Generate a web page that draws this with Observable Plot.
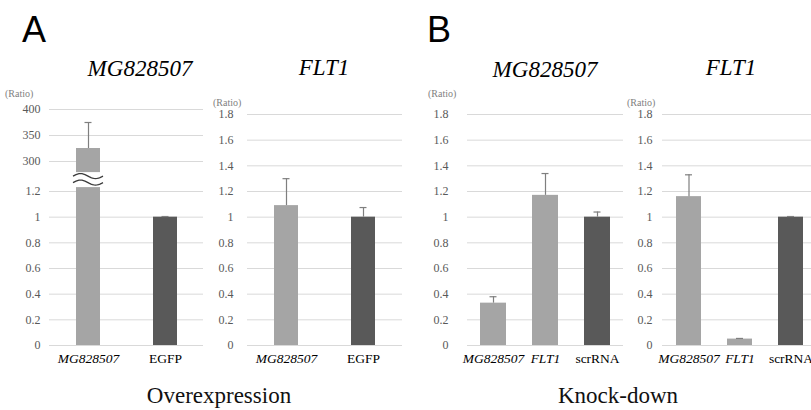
<!DOCTYPE html>
<html><head><meta charset="utf-8">
<script src="https://cdn.jsdelivr.net/npm/d3@7"></script>
<script src="https://cdn.jsdelivr.net/npm/@observablehq/plot@0.6"></script>
<style>
body{margin:0;background:#fff;overflow:hidden}
#chart{position:relative;width:811px;height:410px;overflow:hidden;background:#fff}
#chart svg{position:absolute}
#chart svg text{font-family:"Liberation Serif","Times New Roman",Tinos,"DejaVu Serif","Noto Serif",serif}
#chart svg text.sans{font-family:"Liberation Sans",Arial,Arimo,"DejaVu Sans",sans-serif}
</style></head><body><div id="chart"></div>
<script>
// ---- data ----
const overMgCats = ["MG828507", "EGFP"];
const overMgValues = [325, 1.0];
const overMgUpper = [375, 1.005];

const overFltCats = ["MG828507", "EGFP"];
const overFltValues = [1.09, 1.0];
const overFltUpper = [1.30, 1.075];

const kdMgCats = ["MG828507", "FLT1", "scrRNA"];
const kdMgValues = [0.33, 1.17, 1.0];
const kdMgUpper = [0.38, 1.34, 1.04];

const kdFltCats = ["MG828507", "FLT1", "scrRNA"];
const kdFltValues = [1.16, 0.05, 1.0];
const kdFltUpper = [1.33, 0.055, 1.005];

const brokenTicks = [0, 0.2, 0.4, 0.6, 0.8, 1, 1.2, 300, 350, 400];
const ratioTicks = [0, 0.2, 0.4, 0.6, 0.8, 1, 1.2, 1.4, 1.6, 1.8];
const italicCats = ["MG828507", "FLT1"];
const panelTitles = ["MG828507", "FLT1", "MG828507", "FLT1"];
const panelLetters = ["A", "B"];
const groupCaptions = ["Overexpression", "Knock-down"];
const axisUnit = "(Ratio)";

// ---- styles ----
const LIGHT = "#a5a5a5", DARK = "#595959", ERR = "#7f7f7f", GRID = "#d9d9d9";
const chart = document.getElementById("chart");

function rowsOf(cats, values, upper) {
  return cats.map((c, i) => ({cat: c, value: values[i], upper: upper[i], control: i === cats.length - 1}));
}

function breakMark(cat) {
  return (index, scales) => {
    const x = scales.x, y = scales.y;
    const xa = x(cat) - 3, w = x.bandwidth() + 6;
    const ym = y(1.2) + (y(300) - y(1.2)) * 0.38;
    const g = d3.create("svg:g");
    g.append("rect").attr("x", xa).attr("y", ym - 7.5).attr("width", w).attr("height", 15).attr("fill", "white");
    const t = d3.range(0, 1.0001, 0.05);
    for (const yc of [ym - 3.5, ym + 3]) {
      const line = d3.line()(t.map(s => [xa + s * w, yc - 2.5 * Math.sin(2 * Math.PI * s)]));
      g.append("path").attr("d", line).attr("fill", "none").attr("stroke", "#3a3a3a").attr("stroke-width", 1.3);
    }
    return g.node();
  };
}

function panel({rows, cats, left, gridWidth, tickPadding, barWidth, yOpts, ticks, extra = []}) {
  const ml = 50;
  const step = gridWidth / cats.length;
  const pi = 1 - barWidth / step;
  const capInset = (barWidth - 7) / 2;
  const svg = Plot.plot({
    width: ml + gridWidth, height: 290,
    marginLeft: ml, marginRight: 0, marginTop: 24, marginBottom: 35,
    style: {background: "transparent", overflow: "visible", fontSize: "12px", color: "#595959"},
    x: {type: "band", domain: cats, paddingInner: pi, paddingOuter: pi / 2, axis: null},
    y: {...yOpts, ticks, tickSize: 0, tickPadding, tickFormat: d => String(d), label: null},
    marks: [
      Plot.ruleY(ticks, {stroke: GRID, strokeWidth: 1}),
      Plot.barY(rows.filter(d => !d.control), {x: "cat", y: "value", fill: LIGHT}),
      Plot.barY(rows.filter(d => d.control), {x: "cat", y: "value", fill: DARK}),
      Plot.ruleX(rows, {x: "cat", y1: "value", y2: "upper", stroke: ERR, strokeWidth: 1.2}),
      Plot.tickY(rows, {x: "cat", y: "upper", stroke: ERR, strokeWidth: 1.2, insetLeft: capInset, insetRight: capInset}),
      ...extra,
      Plot.text(rows.filter(d => italicCats.includes(d.cat)), {x: "cat", text: "cat", frameAnchor: "bottom", dy: 17, fontStyle: "italic", fill: "black", fontSize: 13.5}),
      Plot.text(rows.filter(d => !italicCats.includes(d.cat)), {x: "cat", text: "cat", frameAnchor: "bottom", dy: 17, fill: "black", fontSize: 13.5})
    ]
  });
  svg.style.left = (left - ml) + "px";
  svg.style.top = "90px";
  chart.appendChild(svg);
}

panel({rows: rowsOf(overMgCats, overMgValues, overMgUpper), cats: overMgCats, left: 49, gridWidth: 154, tickPadding: 9, barWidth: 24,
  yOpts: {type: "linear", domain: [0, 1.2, 300, 400], range: [255, 101, 71, 19]}, ticks: brokenTicks,
  extra: [breakMark("MG828507")]});
panel({rows: rowsOf(overFltCats, overFltValues, overFltUpper), cats: overFltCats, left: 247, gridWidth: 155, tickPadding: 14, barWidth: 24,
  yOpts: {domain: [0, 1.8]}, ticks: ratioTicks});
panel({rows: rowsOf(kdMgCats, kdMgValues, kdMgUpper), cats: kdMgCats, left: 467, gridWidth: 156, tickPadding: 19, barWidth: 26,
  yOpts: {domain: [0, 1.8]}, ticks: ratioTicks});
panel({rows: rowsOf(kdFltCats, kdFltValues, kdFltUpper), cats: kdFltCats, left: 662, gridWidth: 155, tickPadding: 10, barWidth: 25,
  yOpts: {domain: [0, 1.8]}, ticks: ratioTicks});

// ---- text overlay ----
const ov = d3.create("svg").attr("width", 811).attr("height", 410).style("left", "0px").style("top", "0px").style("pointer-events", "none");
panelLetters.forEach((t, i) => ov.append("text").attr("class", "sans").attr("x", [22, 427][i]).attr("y", 42)
  .attr("font-size", 36).text(t));
panelTitles.forEach((t, i) => ov.append("text").attr("x", [140, 324, 545, 731][i]).attr("y", [76, 75, 77, 75][i])
  .attr("text-anchor", "middle").attr("font-style", "italic").attr("font-size", 23).text(t));
[[5, 97], [213, 106], [428, 97], [627, 106]].forEach(([x, y]) => ov.append("text").attr("x", x).attr("y", y)
  .attr("font-size", 10).attr("fill", "#7f7f7f").text(axisUnit));
groupCaptions.forEach((t, i) => ov.append("text").attr("x", [219, 618][i]).attr("y", 403)
  .attr("text-anchor", "middle").attr("font-size", 23).attr("fill", "#111").text(t));
chart.appendChild(ov.node());
</script></body></html>
